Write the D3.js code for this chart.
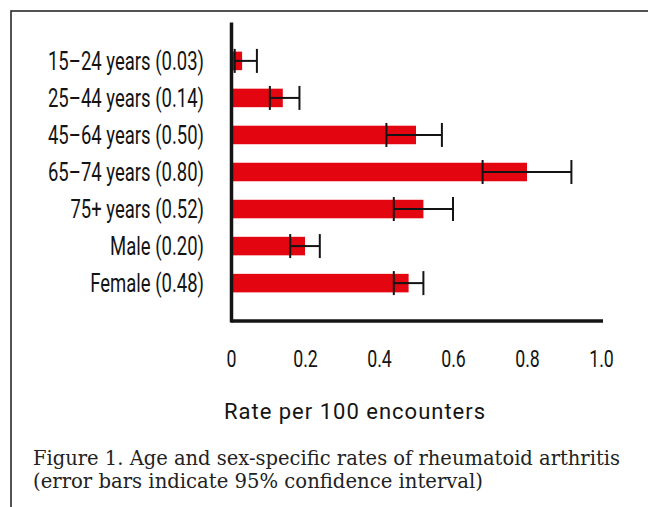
<!DOCTYPE html>
<html>
<head>
<meta charset="utf-8">
<script src="https://cdn.jsdelivr.net/npm/d3@7"></script>
<style>
  body { margin: 0; background: #fff; }
  svg { display: block; }
</style>
</head>
<body>
<div id="chart"></div>
<script>
// Data
const categories = ["15–24 years (0.03)", "25–44 years (0.14)", "45–64 years (0.50)",
  "65–74 years (0.80)", "75+ years (0.52)", "Male (0.20)", "Female (0.48)"];
const rates = [0.03, 0.14, 0.50, 0.80, 0.52, 0.20, 0.48];
const ciLow = [0.01, 0.105, 0.42, 0.68, 0.44, 0.16, 0.44];
const ciHigh = [0.07, 0.185, 0.57, 0.92, 0.60, 0.24, 0.52];
const xTicks = [0, 0.2, 0.4, 0.6, 0.8, 1.0];
const xTickLabels = ["0", "0.2", "0.4", "0.6", "0.8", "1.0"];
const xTitle = "Rate per 100 encounters";
const caption = ["Figure 1. Age and sex-specific rates of rheumatoid arthritis",
  "(error bars indicate 95% confidence interval)"];

const data = categories.map((c, i) => ({
  category: c, rate: rates[i], low: ciLow[i], high: ciHigh[i]
}));

const width = 648, height = 507;
const condense = 0.74;   // the label font is a condensed face
const red = "#e3050f", ink = "#141414";

const svg = d3.select("#chart")
  .append("svg")
  .attr("width", width)
  .attr("height", height);

// outer frame (right and bottom edges fall outside the picture)
svg.append("rect")
  .attr("x", 11).attr("y", 11)
  .attr("width", 700).attr("height", 600)
  .attr("fill", "none")
  .attr("stroke", "#2a2a2a")
  .attr("stroke-width", 1.6);

// scales
const xScale = d3.scaleLinear()
  .domain([0, 1])
  .range([231, 601]);

const yScale = d3.scaleBand()
  .domain(categories)
  .range([22, 322])
  .paddingInner(0.5)
  .paddingOuter(0.8);

// bars
svg.append("g")
  .selectAll("rect")
  .data(data)
  .join("rect")
    .attr("x", xScale(0))
    .attr("y", d => yScale(d.category))
    .attr("width", d => xScale(d.rate) - xScale(0))
    .attr("height", yScale.bandwidth())
    .attr("fill", red);

// error bars
const capH = 12;
const err = svg.append("g")
  .attr("stroke", ink)
  .attr("stroke-width", 2)
  .selectAll("g")
  .data(data)
  .join("g")
    .attr("transform", d => `translate(0,${yScale(d.category) + yScale.bandwidth() / 2})`);

err.append("line")
  .attr("x1", d => xScale(d.low))
  .attr("x2", d => xScale(d.high));
err.append("line")
  .attr("x1", d => xScale(d.low)).attr("x2", d => xScale(d.low))
  .attr("y1", -capH).attr("y2", capH);
err.append("line")
  .attr("x1", d => xScale(d.high)).attr("x2", d => xScale(d.high))
  .attr("y1", -capH).attr("y2", capH);

// y axis: just the heavy line plus the category labels
const yGroup = svg.append("g")
  .attr("transform", `translate(${xScale(0)},0)`)
  .call(d3.axisLeft(yScale).tickSize(0).tickSizeOuter(0));

yGroup.select(".domain")
  .attr("stroke", ink)
  .attr("stroke-width", 3.5);

yGroup.selectAll(".tick text")
  .attr("x", 0)
  .attr("dy", "0.37em")
  .attr("transform", `translate(-27,0) scale(${condense},1)`)
  .style("font-family", "Roboto, 'Liberation Sans', sans-serif")
  .style("font-size", "25px")
  .style("fill", ink);

// x axis
const xAxis = d3.axisBottom(xScale)
  .tickValues(xTicks)
  .tickFormat((d, i) => xTickLabels[i])
  .tickSize(0)
  .tickSizeOuter(0)
  .tickPadding(29);

const xGroup = svg.append("g")
  .attr("transform", `translate(0,321)`)
  .call(xAxis);

xGroup.select(".domain")
  .attr("stroke", ink)
  .attr("stroke-width", 3.5)
  .attr("d", `M${xScale(0)},0H${xScale(1) + 2}`);

xGroup.selectAll(".tick text")
  .attr("transform", `scale(${condense},1)`)
  .style("font-family", "Roboto, 'Liberation Sans', sans-serif")
  .style("font-size", "24px")
  .style("fill", ink);

// x axis title
svg.append("text")
  .attr("x", 355)
  .attr("y", 419)
  .attr("text-anchor", "middle")
  .style("font-family", "Roboto, 'Liberation Sans', sans-serif")
  .style("font-size", "22px")
  .style("letter-spacing", "1px")
  .style("fill", ink)
  .text(xTitle);

// caption, a slightly tall serif
svg.selectAll("text.caption")
  .data(caption)
  .join("text")
    .attr("class", "caption")
    .attr("transform", (d, i) => `translate(33,${465 + i * 23}) scale(1,1.15)`)
    .attr("textLength", (d, i) => i === 0 ? 587 : 450)
    .attr("lengthAdjust", "spacingAndGlyphs")
    .style("font-family", "'DejaVu Serif', serif")
    .style("font-size", "18px")
    .style("fill", "#222")
    .text(d => d);
</script>
</body>
</html>
